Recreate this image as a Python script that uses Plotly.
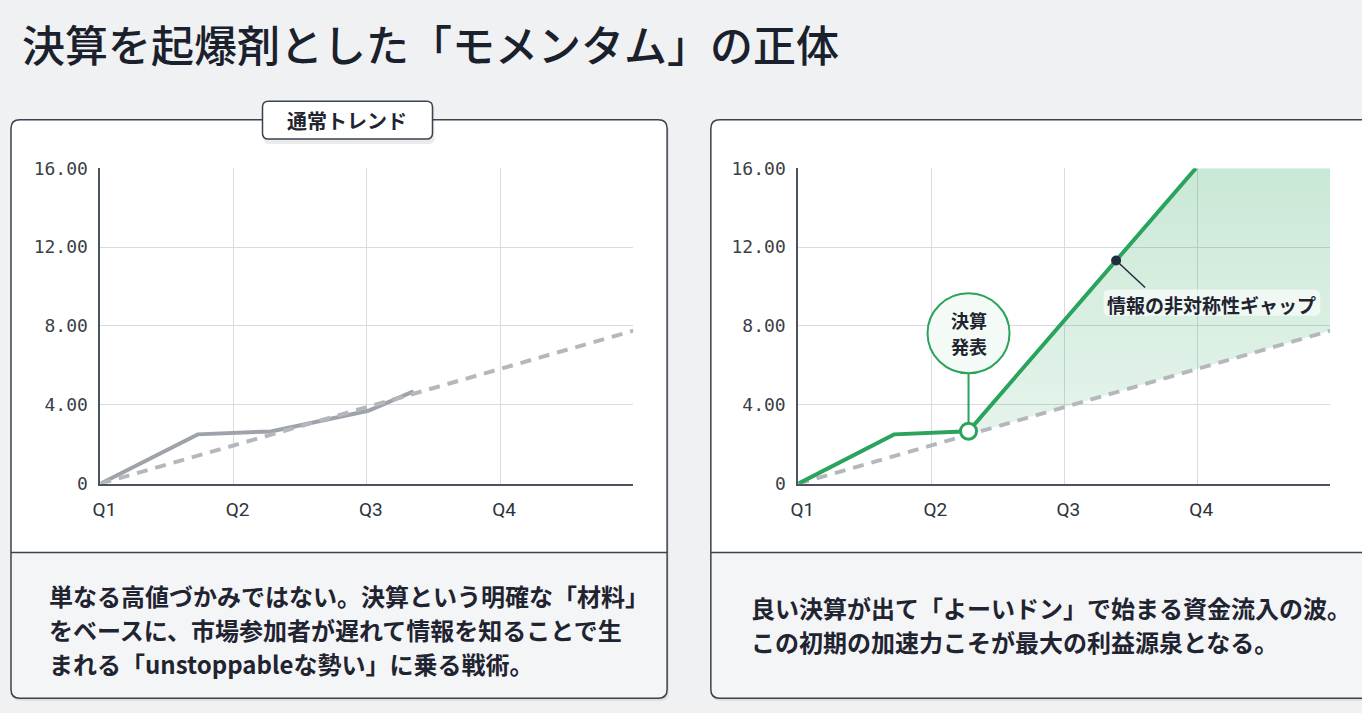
import numpy as np
import plotly.graph_objects as go

# ---------------- data ----------------
quarters = ["Q1", "Q2", "Q3", "Q4"]
quarter_pos = [0, 1, 2, 3]
y_ticks = [0, 4, 8, 12, 16]
y_tick_labels = ["0", "4.00", "8.00", "12.00", "16.00"]

trend_x = [0.0, 4.0]
trend_y = [0.0, 7.76]

normal_x = [0.0, 0.73, 1.28, 2.01, 2.35]
normal_y = [0.0, 2.50, 2.65, 3.70, 4.68]

momentum_x = [0.0, 0.72, 1.28, 2.99]
momentum_y = [0.0, 2.50, 2.66, 16.0]

event_index = 2          # earnings announcement point on momentum line
gap_point_x = 2.39       # point where the "information gap" label is attached

title_text = "決算を起爆剤とした「モメンタム」の正体"
badge_text = "通常トレンド"
event_label = ["決算", "発表"]
gap_label = "情報の非対称性ギャップ"
left_lines = [
    "単なる高値づかみではない。決算という明確な「材料」",
    "をベースに、市場参加者が遅れて情報を知ることで生",
    "まれる「unstoppableな勢い」に乗る戦術。",
]
right_lines = [
    "良い決算が出て「よーいドン」で始まる資金流入の波。",
    "この初期の加速力こそが最大の利益源泉となる。",
]

# ---------------- style ----------------
W, H = 1362, 713
BG = "#eff1f3"
LOWER_BG = "#f4f5f7"
BORDER = "#3a4250"
TEXT = "#1f2430"
GREEN = "#2aa35c"
GRAY_SOLID = "#9ea2aa"
GRAY_DASH = "#b4b7bc"
GRID = "#d8dbdf"
AXIS = "#4b5260"
JP = "Noto Sans CJK JP"
MONO = "DejaVu Sans Mono"


def px(x):
    return x / W


def py(y):
    return 1 - y / H


def rrect_path(x0, y0, x1, y1, r, top=True, bottom=True):
    rx, ry = r / W, r / H
    X0, X1, Y0, Y1 = px(x0), px(x1), py(y0), py(y1)
    rt = (rx, ry) if top else (0, 0)
    rb = (rx, ry) if bottom else (0, 0)
    p = f"M {X0 + rt[0]},{Y0} L {X1 - rt[0]},{Y0} Q {X1},{Y0} {X1},{Y0 - rt[1]} "
    p += f"L {X1},{Y1 + rb[1]} Q {X1},{Y1} {X1 - rb[0]},{Y1} "
    p += f"L {X0 + rb[0]},{Y1} Q {X0},{Y1} {X0},{Y1 + rb[1]} "
    p += f"L {X0},{Y0 - rt[1]} Q {X0},{Y0} {X0 + rt[0]},{Y0} Z"
    return p


fig = go.Figure()

# ---------- left chart ----------
fig.add_trace(go.Scatter(x=normal_x, y=normal_y, mode="lines",
                         line=dict(color=GRAY_SOLID, width=4), xaxis="x", yaxis="y",
                         hoverinfo="skip"))
fig.add_trace(go.Scatter(x=trend_x, y=trend_y, mode="lines",
                         line=dict(color=GRAY_DASH, width=4, dash="11px,8px"),
                         xaxis="x", yaxis="y", hoverinfo="skip"))

# ---------- right chart ----------
ex, ey = momentum_x[event_index], momentum_y[event_index]
base_x = [ex, trend_x[-1]]
base_y = list(np.interp(base_x, trend_x, trend_y))
upper_x = momentum_x[event_index:] + [trend_x[-1]]
upper_y = momentum_y[event_index:] + [y_ticks[-1]]

fig.add_trace(go.Scatter(x=base_x, y=base_y, mode="lines", line=dict(width=0),
                         xaxis="x2", yaxis="y2", hoverinfo="skip"))
fig.add_trace(go.Scatter(x=upper_x, y=upper_y, mode="lines", line=dict(width=0),
                         fill="tonexty", fillcolor="rgba(42,163,92,0.22)",
                         fillgradient=dict(type="vertical",
                                           colorscale=[[0, "rgba(42,163,92,0.12)"],
                                                       [1, "rgba(42,163,92,0.25)"]]),
                         xaxis="x2", yaxis="y2", hoverinfo="skip"))
fig.add_trace(go.Scatter(x=trend_x, y=trend_y, mode="lines",
                         line=dict(color=GRAY_DASH, width=4, dash="11px,8px"),
                         xaxis="x2", yaxis="y2", hoverinfo="skip"))
fig.add_trace(go.Scatter(x=momentum_x, y=momentum_y, mode="lines",
                         line=dict(color=GREEN, width=4), xaxis="x2", yaxis="y2",
                         hoverinfo="skip"))

gap_y = float(np.interp(gap_point_x, momentum_x, momentum_y))

# ---------- shapes ----------
shapes = []
for (x0, x1) in [(3, 663), (707, 1375)]:
    shapes.append(dict(type="path", path=rrect_path(x0 + 1, 115, x1 + 2, 711, 9),
                       xref="paper", yref="paper", fillcolor="rgba(0,0,0,0.07)",
                       line=dict(width=0), layer="below"))
    shapes.append(dict(type="path", path=rrect_path(x0, 112, x1, 708, 9),
                       xref="paper", yref="paper", fillcolor="white",
                       line=dict(width=0), layer="below"))
    shapes.append(dict(type="path", path=rrect_path(x0, 558, x1, 708, 9, top=False),
                       xref="paper", yref="paper", fillcolor=LOWER_BG,
                       line=dict(width=0), layer="below"))
    shapes.append(dict(type="line", x0=px(x0), x1=px(x1), y0=py(558), y1=py(558),
                       xref="paper", yref="paper", line=dict(color=BORDER, width=1.5),
                       layer="below"))
    shapes.append(dict(type="path", path=rrect_path(x0, 112, x1, 708, 9),
                       xref="paper", yref="paper", fillcolor="rgba(0,0,0,0)",
                       line=dict(color=BORDER, width=1.5), layer="below"))

# badge
shapes.append(dict(type="path", path=rrect_path(257, 96, 429, 137, 6),
                   xref="paper", yref="paper", fillcolor="rgba(0,0,0,0.08)",
                   line=dict(width=0)))
shapes.append(dict(type="path", path=rrect_path(256, 93, 427, 132, 6),
                   xref="paper", yref="paper", fillcolor="white",
                   line=dict(color=BORDER, width=1.5)))

# event callout: connector + circle
shapes.append(dict(type="line", xref="x2", yref="y2", xsizemode="pixel", ysizemode="pixel",
                   xanchor=ex, yanchor=ey, x0=0, x1=0, y0=8, y1=58,
                   line=dict(color=GREEN, width=2)))
shapes.append(dict(type="circle", xref="x2", yref="y2", xsizemode="pixel", ysizemode="pixel",
                   xanchor=ex, yanchor=ey, x0=-41, x1=41, y0=58, y1=138,
                   fillcolor="#f4fbf6", line=dict(color=GREEN, width=2)))
# gap label rounded background
shapes.append(dict(type="path", path=rrect_path(1102, 287, 1320, 314, 6),
                   xref="paper", yref="paper", fillcolor="rgba(255,255,255,0.6)",
                   line=dict(width=0)))
# gap leader line
shapes.append(dict(type="line", xref="x2", yref="y2", xsizemode="pixel", ysizemode="pixel",
                   xanchor=gap_point_x, yanchor=gap_y, x0=0, x1=29, y0=0, y1=-27,
                   line=dict(color="#1f2d3d", width=1.5)))

# markers on top of shapes
fig.add_trace(go.Scatter(x=[ex], y=[ey], mode="markers",
                         marker=dict(size=16, color="white", line=dict(color=GREEN, width=3)),
                         xaxis="x2", yaxis="y2", hoverinfo="skip", cliponaxis=False))
fig.add_trace(go.Scatter(x=[gap_point_x], y=[gap_y], mode="markers",
                         marker=dict(size=10, color="#1f2d3d"),
                         xaxis="x2", yaxis="y2", hoverinfo="skip"))

# ---------- annotations ----------
ann = []
ann.append(dict(text=title_text, x=px(12), y=py(33), xref="paper", yref="paper",
                xanchor="left", yanchor="middle", showarrow=False,
                font=dict(family=JP, size=43, color="#1a202c", weight=500)))
ann.append(dict(text=badge_text, x=px(341), y=py(113), xref="paper", yref="paper",
                xanchor="center", yanchor="middle", showarrow=False,
                font=dict(family=JP, size=20, color=TEXT, weight=700)))
for t, ys in zip(event_label, [111, 85]):
    ann.append(dict(text=t, x=ex, y=ey, xref="x2", yref="y2", yshift=ys,
                    xanchor="center", yanchor="middle", showarrow=False,
                    font=dict(family=JP, size=18, color=TEXT, weight=700)))
ann.append(dict(text=gap_label, x=gap_point_x, y=gap_y, xref="x2", yref="y2",
                xshift=95, yshift=-44, xanchor="center", yanchor="middle", showarrow=False,
                font=dict(family=JP, size=19, color=TEXT, weight=700)))
for t, yy in zip(left_lines, [602, 637, 672]):
    ann.append(dict(text=t, x=px(39), y=py(yy), xref="paper", yref="paper",
                    xanchor="left", yanchor="middle", showarrow=False,
                    font=dict(family=JP, size=24, color=TEXT, weight=700)))
for t, yy in zip(right_lines, [615, 650]):
    ann.append(dict(text=t, x=px(745), y=py(yy), xref="paper", yref="paper",
                    xanchor="left", yanchor="middle", showarrow=False,
                    font=dict(family=JP, size=24, color=TEXT, weight=700)))

xcommon = dict(range=[0, 4], tickvals=quarter_pos + [4], ticktext=quarters + [""],
               showgrid=True, gridcolor=GRID, gridwidth=1, zeroline=False,
               showline=True, linecolor=AXIS, linewidth=2, ticks="",
               tickfont=dict(family="Liberation Sans Narrow, Roboto, sans-serif", size=19, color="#2d333c"),
               ticklabelstandoff=8, ticklabelshift=4, fixedrange=True)
ycommon = dict(range=[0, 16], tickvals=y_ticks, ticktext=y_tick_labels,
               showgrid=True, gridcolor=GRID, gridwidth=1, zeroline=False,
               showline=True, linecolor=AXIS, linewidth=2, ticks="",
               tickfont=dict(family=MONO, size=18, color="#3a3f47"),
               ticklabelstandoff=7, fixedrange=True)

fig.update_layout(
    width=W, height=H, margin=dict(l=0, r=0, t=0, b=0),
    paper_bgcolor=BG, plot_bgcolor="rgba(0,0,0,0)", showlegend=False,
    xaxis=dict(domain=[px(93), px(629)], anchor="y", **xcommon),
    yaxis=dict(domain=[py(487), py(162)], anchor="x", **ycommon),
    xaxis2=dict(domain=[px(795), px(1330)], anchor="y2", **xcommon),
    yaxis2=dict(domain=[py(487), py(162)], anchor="x2", **ycommon),
    shapes=shapes, annotations=ann,
)

fig.write_html("out.html", config={"displayModeBar": False},
               post_script="document.body.style.margin='0px';document.body.style.overflow='hidden';")
